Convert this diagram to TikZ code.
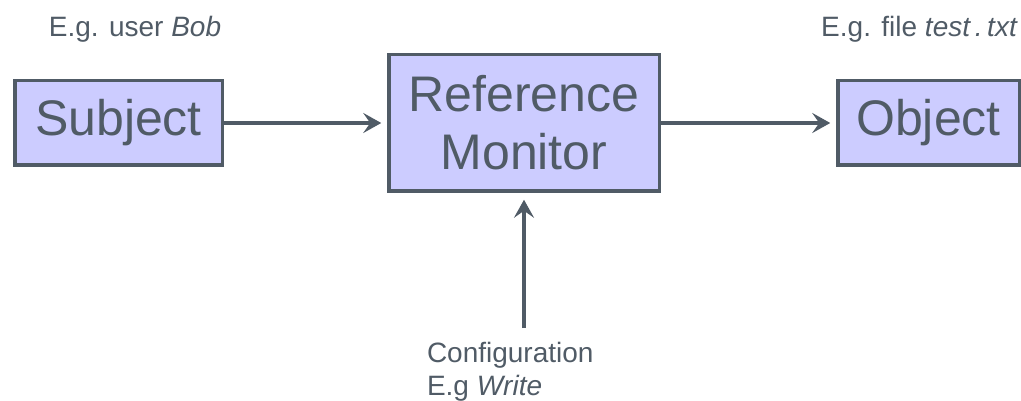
\documentclass[tikz,border=0pt]{standalone}
\usepackage{fontspec}
\setmainfont{Liberation Sans}
\usetikzlibrary{arrows.meta}
\definecolor{boxfill}{HTML}{CCCCFF}
\definecolor{slate}{HTML}{505B66}
\begin{document}
\begin{tikzpicture}[x=1pt,y=-1pt,
  box/.style={draw=slate, fill=boxfill, line width=3.5pt, outer sep=0pt, inner sep=0pt,
    text=slate, font=\fontsize{50}{58}\selectfont, align=center},
  lbl/.style={text=slate, font=\fontsize{28}{33}\selectfont, inner sep=0pt, outer sep=0pt},
  conn/.style={draw=slate, line width=3.5pt, -{Stealth[length=18pt,width=20pt,inset=7pt]}}]
\useasboundingbox (0,0) rectangle (1021,401);
\clip (0,0) rectangle (1021,401);
\node[box, minimum width=207.5pt, minimum height=84.5pt] (subj) at (118.5,123) {Subject};
\node[box, minimum width=270.5pt, minimum height=136.5pt] (rm) at (524,123) {Reference\\Monitor};
\node[box, minimum width=181.5pt, minimum height=84.5pt] (obj) at (928.5,123) {Object};
\node[lbl, anchor=base] (subjl) at (135,37) {E.g. user \textit{Bob}};
\node[lbl, anchor=base] (objl) at (919.5,37) {E.g. file \textit{test\,.\,txt}};
\node[lbl, anchor=base west] (conf) at (427,362) {Configuration};
\node[lbl, anchor=base west] (confe) at (427,395) {E.g \textit{Write}};
\coordinate (cb) at (524,328);
\draw[conn, shorten >=7.5pt] (subj.east) -- (rm.west);
\draw[conn, shorten >=7.5pt] (rm.east) -- (obj.west);
\draw[conn, shorten >=8.5pt] (cb) -- (rm.south);
\end{tikzpicture}
\end{document}
